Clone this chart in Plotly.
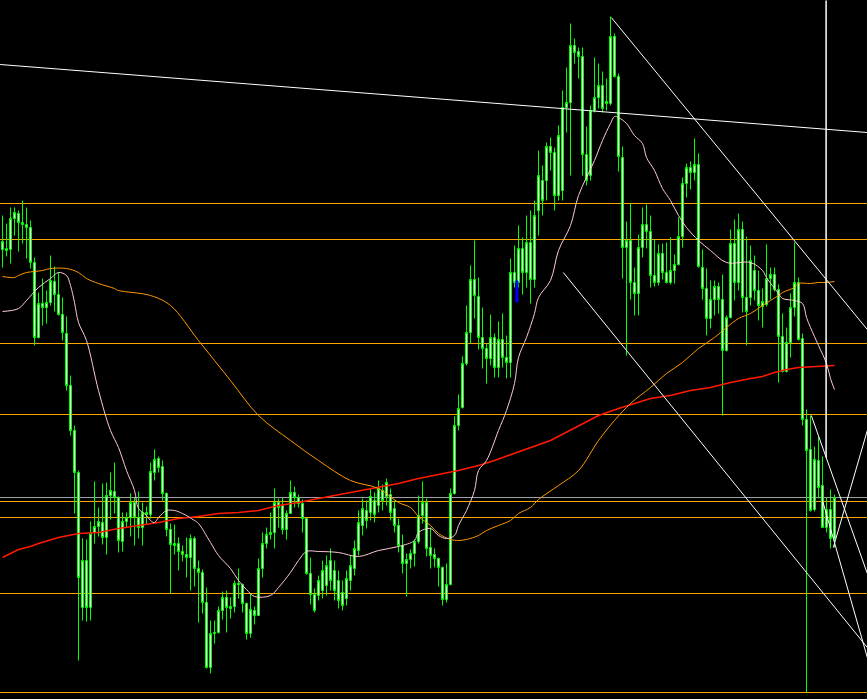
import plotly.graph_objects as go

open_ = [
1.3451,1.3450,1.3451,1.3482,1.3487,1.3478,1.3476,1.3473,1.3438,1.3363,
1.3397,1.3393,1.3398,1.3419,1.3406,1.3386,1.3367,1.3315,1.3270,1.3228,
1.3093,1.3140,1.3093,1.3168,1.3174,1.3178,1.3163,1.3205,1.3209,1.3203,
1.3159,1.3179,1.3183,1.3198,1.3183,1.3173,1.3188,1.3186,1.3228,1.3242,
1.3234,1.3207,1.3171,1.3157,1.3157,1.3149,1.3146,1.3143,1.3162,1.3132,
1.3128,1.3098,1.3033,1.3067,1.3068,1.3090,1.3103,1.3094,1.3094,1.3117,
1.3116,1.3097,1.3067,1.3090,1.3085,1.3132,1.3157,1.3166,1.3168,1.3198,
1.3195,1.3171,1.3187,1.3208,1.3203,1.3197,1.3182,1.3127,1.3106,1.3105,
1.3110,1.3115,1.3140,1.3130,1.3120,1.3108,1.3102,1.3120,1.3132,1.3150,
1.3175,1.3190,1.3188,1.3200,1.3195,1.3210,1.3204,1.3206,1.3192,1.3175,
1.3155,1.3137,1.3141,1.3147,1.3159,1.3185,1.3198,1.3153,1.3146,1.3142,
1.3133,1.3101,1.3116,1.3207,1.3275,1.3293,1.3337,1.3368,1.3421,1.3404,
1.3363,1.3352,1.3342,1.3363,1.3333,1.3361,1.3343,1.3338,1.3428,1.3418,
1.3452,1.3428,1.3458,1.3421,1.3490,1.3520,1.3520,1.3554,1.3548,1.3505,
1.3510,1.3593,1.3598,1.3655,1.3649,1.3644,1.3546,1.3525,1.3590,1.3603,
1.3615,1.3597,1.3597,1.3664,1.3624,1.3543,1.3453,1.3460,1.3418,1.3407,
1.3453,1.3476,1.3469,1.3425,1.3418,1.3447,1.3428,1.3418,1.3430,1.3436,
1.3464,1.3517,1.3533,1.3528,1.3536,1.3433,1.3412,1.3382,1.3401,1.3414,
1.3401,1.3350,1.3383,1.3457,1.3418,1.3471,1.3403,1.3403,1.3430,1.3410,
1.3394,1.3396,1.3422,1.3426,1.3411,1.3364,1.3329,1.3358,1.3393,1.3418,
1.3362,1.3281,1.3251,1.3191,1.3240,1.3215,1.3173,1.3191,1.3162]

high = [
1.3485,1.3477,1.3493,1.3493,1.3490,1.3500,1.3493,1.3480,1.3443,1.3408,
1.3422,1.3410,1.3445,1.3434,1.3428,1.3403,1.3384,1.3325,1.3275,1.3230,
1.3162,1.3161,1.3179,1.3219,1.3193,1.3217,1.3218,1.3228,1.3238,1.3204,
1.3188,1.3188,1.3207,1.3203,1.3209,1.3198,1.3194,1.3238,1.3251,1.3244,
1.3240,1.3208,1.3177,1.3176,1.3163,1.3155,1.3163,1.3166,1.3164,1.3140,
1.3131,1.3113,1.3080,1.3080,1.3094,1.3109,1.3110,1.3103,1.3120,1.3132,
1.3117,1.3098,1.3107,1.3094,1.3142,1.3168,1.3173,1.3188,1.3212,1.3202,
1.3203,1.3190,1.3220,1.3214,1.3206,1.3201,1.3183,1.3143,1.3112,1.3125,
1.3140,1.3145,1.3152,1.3140,1.3130,1.3120,1.3130,1.3145,1.3160,1.3190,
1.3202,1.3200,1.3212,1.3208,1.3220,1.3216,1.3222,1.3212,1.3200,1.3182,
1.3166,1.3147,1.3151,1.3161,1.3205,1.3219,1.3202,1.3173,1.3152,1.3143,
1.3134,1.3137,1.3212,1.3284,1.3306,1.3344,1.3395,1.3435,1.3460,1.3423,
1.3393,1.3357,1.3386,1.3367,1.3379,1.3387,1.3365,1.3442,1.3455,1.3475,
1.3463,1.3485,1.3490,1.3500,1.3550,1.3535,1.3558,1.3563,1.3553,1.3575,
1.3610,1.3633,1.3677,1.3662,1.3653,1.3653,1.3574,1.3595,1.3643,1.3637,
1.3629,1.3622,1.3684,1.3667,1.3627,1.3554,1.3479,1.3497,1.3433,1.3466,
1.3493,1.3496,1.3485,1.3461,1.3456,1.3457,1.3458,1.3463,1.3446,1.3483,
1.3523,1.3537,1.3539,1.3562,1.3547,1.3451,1.3432,1.3420,1.3420,1.3418,
1.3426,1.3385,1.3471,1.3481,1.3487,1.3479,1.3464,1.3455,1.3445,1.3430,
1.3412,1.3456,1.3433,1.3433,1.3416,1.3387,1.3373,1.3407,1.3458,1.3423,
1.3367,1.3291,1.3285,1.3254,1.3264,1.3244,1.3203,1.3211,1.3206]

low = [
1.3433,1.3444,1.3437,1.3465,1.3449,1.3457,1.3442,1.3432,1.3355,1.3362,
1.3375,1.3377,1.3395,1.3389,1.3385,1.3360,1.3310,1.3265,1.3187,1.3040,
1.3080,1.3079,1.3080,1.3157,1.3164,1.3156,1.3146,1.3181,1.3187,1.3148,
1.3149,1.3173,1.3164,1.3155,1.3162,1.3155,1.3176,1.3182,1.3220,1.3228,
1.3200,1.3164,1.3107,1.3146,1.3130,1.3139,1.3123,1.3110,1.3114,1.3078,
1.3087,1.3032,1.3027,1.3057,1.3067,1.3081,1.3068,1.3082,1.3088,1.3102,
1.3088,1.3061,1.3063,1.3076,1.3085,1.3123,1.3152,1.3161,1.3152,1.3173,
1.3166,1.3161,1.3187,1.3193,1.3193,1.3168,1.3126,1.3096,1.3088,1.3100,
1.3102,1.3105,1.3110,1.3100,1.3092,1.3090,1.3095,1.3110,1.3125,1.3145,
1.3165,1.3172,1.3180,1.3178,1.3188,1.3190,1.3195,1.3180,1.3168,1.3148,
1.3127,1.3104,1.3132,1.3134,1.3157,1.3177,1.3144,1.3132,1.3133,1.3114,
1.3095,1.3098,1.3115,1.3206,1.3270,1.3292,1.3335,1.3357,1.3382,1.3351,
1.3332,1.3317,1.3335,1.3323,1.3323,1.3333,1.3322,1.3323,1.3413,1.3413,
1.3406,1.3413,1.3397,1.3413,1.3465,1.3485,1.3500,1.3530,1.3490,1.3500,
1.3500,1.3568,1.3525,1.3637,1.3622,1.3525,1.3515,1.3520,1.3588,1.3592,
1.3588,1.3590,1.3595,1.3623,1.3529,1.3422,1.3345,1.3401,1.3385,1.3385,
1.3443,1.3452,1.3413,1.3414,1.3415,1.3421,1.3417,1.3416,1.3417,1.3435,
1.3453,1.3503,1.3511,1.3520,1.3433,1.3401,1.3365,1.3372,1.3385,1.3387,
1.3285,1.3349,1.3382,1.3400,1.3410,1.3388,1.3355,1.3395,1.3400,1.3380,
1.3373,1.3394,1.3401,1.3409,1.3318,1.3328,1.3328,1.3343,1.3384,1.3360,
1.3275,1.3008,1.3189,1.3189,1.3202,1.3173,1.3168,1.3152,1.3153]

close = [
1.3459,1.3452,1.3482,1.3488,1.3478,1.3476,1.3473,1.3438,1.3363,1.3397,
1.3393,1.3398,1.3420,1.3406,1.3386,1.3368,1.3315,1.3270,1.3228,1.3123,
1.3140,1.3093,1.3167,1.3174,1.3179,1.3163,1.3205,1.3210,1.3203,1.3160,
1.3179,1.3183,1.3198,1.3183,1.3173,1.3188,1.3186,1.3229,1.3241,1.3233,
1.3207,1.3171,1.3156,1.3155,1.3149,1.3146,1.3143,1.3162,1.3132,1.3128,
1.3098,1.3033,1.3067,1.3068,1.3090,1.3103,1.3093,1.3092,1.3117,1.3116,
1.3097,1.3067,1.3091,1.3085,1.3132,1.3157,1.3166,1.3168,1.3198,1.3193,
1.3171,1.3187,1.3208,1.3203,1.3197,1.3182,1.3127,1.3106,1.3090,1.3120,
1.3130,1.3135,1.3120,1.3110,1.3100,1.3095,1.3122,1.3135,1.3152,1.3178,
1.3192,1.3180,1.3204,1.3186,1.3212,1.3200,1.3218,1.3188,1.3175,1.3155,
1.3137,1.3141,1.3147,1.3159,1.3185,1.3198,1.3152,1.3145,1.3142,1.3133,
1.3101,1.3116,1.3207,1.3275,1.3292,1.3337,1.3368,1.3421,1.3405,1.3363,
1.3352,1.3342,1.3363,1.3333,1.3361,1.3343,1.3338,1.3428,1.3418,1.3452,
1.3428,1.3458,1.3421,1.3485,1.3525,1.3500,1.3554,1.3548,1.3505,1.3565,
1.3593,1.3598,1.3655,1.3648,1.3644,1.3546,1.3520,1.3590,1.3603,1.3615,
1.3592,1.3599,1.3664,1.3624,1.3544,1.3453,1.3460,1.3418,1.3407,1.3453,
1.3476,1.3469,1.3425,1.3418,1.3447,1.3428,1.3418,1.3430,1.3436,1.3464,
1.3517,1.3533,1.3528,1.3536,1.3434,1.3412,1.3382,1.3401,1.3414,1.3401,
1.3350,1.3383,1.3457,1.3418,1.3471,1.3403,1.3389,1.3440,1.3410,1.3395,
1.3399,1.3422,1.3426,1.3411,1.3364,1.3329,1.3358,1.3393,1.3418,1.3361,
1.3281,1.3250,1.3190,1.3241,1.3213,1.3173,1.3191,1.3162,1.3203]

bars = list(range(len(close)))

# moving averages (bar index, value)
ma_fast_idx = [0,4,6,9,12,14,16,17,18,19,21,24,27,29,31,33,34,36,37,38,39,40,41,43,45,48,49,52,54,57,59,61,63,67,69,72,74,76,79,84,89,94,99,103,104,107,109,111,113,114,116,118,119,121,124,126,128,129,131,133,134,137,139,142,144,148,150,152,153,154,156,158,160,161,163,165,167,169,171,174,177,181,187,190,191,194,195,198,200,201,202,204,206,207,208]
ma_fast = [1.3389,1.3392,1.3400,1.3413,1.3422,1.3428,1.3425,1.3415,1.3398,1.3378,1.3360,1.3310,1.3270,1.3253,1.3230,1.3210,1.3192,1.3185,1.3180,1.3178,1.3183,1.3187,1.3190,1.3190,1.3187,1.3180,1.3177,1.3158,1.3145,1.3132,1.3120,1.3111,1.3104,1.3105,1.3113,1.3128,1.3140,1.3149,1.3149,1.3148,1.3144,1.3150,1.3154,1.3160,1.3168,1.3172,1.3165,1.3162,1.3165,1.3175,1.3190,1.3210,1.3230,1.3240,1.3270,1.3290,1.3317,1.3343,1.3363,1.3387,1.3403,1.3420,1.3450,1.3475,1.3505,1.3540,1.3560,1.3577,1.3584,1.3583,1.3577,1.3565,1.3557,1.3543,1.3530,1.3512,1.3500,1.3485,1.3473,1.3460,1.3450,1.3438,1.3438,1.3430,1.3423,1.3407,1.3402,1.3400,1.3397,1.3383,1.3373,1.3355,1.3337,1.3322,1.3311]

ma_mid_idx = [0,3,4,6,8,10,12,16,19,21,24,28,29,37,42,49,57,64,72,79,87,94,99,102,104,107,109,112,114,116,119,121,124,127,129,132,134,139,144,149,153,157,162,166,170,174,178,181,184,187,190,192,194,195,198,199,202,204,206,208]
ma_mid = [1.3424,1.3423,1.3425,1.3428,1.3429,1.3430,1.3432,1.3432,1.3428,1.3422,1.3417,1.3412,1.3410,1.3405,1.3395,1.3360,1.3320,1.3285,1.3260,1.3240,1.3220,1.3212,1.3198,1.3193,1.3184,1.3175,1.3167,1.3161,1.3160,1.3161,1.3165,1.3170,1.3175,1.3180,1.3187,1.3193,1.3201,1.3215,1.3230,1.3260,1.3280,1.3297,1.3313,1.3327,1.3338,1.3352,1.3363,1.3373,1.3382,1.3387,1.3395,1.3400,1.3405,1.3408,1.3413,1.3417,1.3417,1.3418,1.3418,1.3419]

ma_slow_idx = [0,2,4,7,9,14,19,24,29,34,39,44,49,54,59,64,69,74,79,99,104,109,114,119,123,137,149,154,162,167,172,177,182,187,190,193,196,199,203,206,208]
ma_slow = [1.3143,1.3147,1.3151,1.3154,1.3157,1.3163,1.3167,1.3168,1.3172,1.3175,1.3178,1.3182,1.3184,1.3187,1.3188,1.3190,1.3195,1.3198,1.3202,1.3217,1.3222,1.3226,1.3230,1.3235,1.3240,1.3260,1.3285,1.3292,1.3302,1.3305,1.3310,1.3313,1.3318,1.3322,1.3324,1.3328,1.3331,1.3333,1.3334,1.3335,1.3335]

# horizontal price levels
level_prices = [1.3497, 1.3461, 1.3357, 1.3286, 1.3199, 1.3183, 1.3107, 1.3008]
grey_level = [1.3203]

# trend lines: (bar0, price0) -> (bar1, price1)
trend_x0 = [-0.6, 152.2, 140.2, 202.2, 205.0, 207.7]
trend_y0 = [1.3636, 1.3683, 1.3428, 1.3285, 1.3200, 1.3153]
trend_x1 = [216.2, 216.2, 216.2, 216.2, 216.2, 216.2]
trend_y1 = [1.3568, 1.3371, 1.3053, 1.3127, 1.3043, 1.3270]
vline_bar = [205.9]
vline_range = [1.3243, 1.3700]
marker_bar = [128.6]
marker_range = [1.3398, 1.3420]

fig = go.Figure()

shapes = []
for p in level_prices:
    shapes.append(dict(type="line", xref="paper", yref="y", x0=0, x1=1, y0=p, y1=p,
                       line=dict(color="#FFA500", width=1), layer="below"))
for p in grey_level:
    shapes.append(dict(type="line", xref="paper", yref="y", x0=0, x1=1, y0=p, y1=p,
                       line=dict(color="#A0A0A0", width=1), layer="below"))
for a, b, c, d in zip(trend_x0, trend_y0, trend_x1, trend_y1):
    shapes.append(dict(type="line", xref="x", yref="y", x0=a, y0=b, x1=c, y1=d,
                       line=dict(color="white", width=1)))
for v in vline_bar:
    shapes.append(dict(type="line", xref="x", yref="y", x0=v, x1=v,
                       y0=vline_range[0], y1=vline_range[1],
                       line=dict(color="white", width=1.5)))

fig.add_trace(go.Scatter(x=ma_slow_idx, y=ma_slow, mode="lines",
                         line=dict(color="#FF1A00", width=1.6), hoverinfo="skip"))
fig.add_trace(go.Scatter(x=ma_mid_idx, y=ma_mid, mode="lines", line_shape="spline",
                         line=dict(color="#FF9900", width=1), hoverinfo="skip"))
fig.add_trace(go.Candlestick(
    x=bars, open=open_, high=high, low=low, close=close,
    increasing=dict(line=dict(color="#00FF00", width=1), fillcolor="white"),
    decreasing=dict(line=dict(color="#00FF00", width=1), fillcolor="white"),
    whiskerwidth=0, hoverinfo="skip"))
fig.add_trace(go.Scatter(x=ma_fast_idx, y=ma_fast, mode="lines", line_shape="spline",
                         line=dict(color="#FFC8D8", width=1), hoverinfo="skip"))
fig.add_trace(go.Scatter(x=marker_bar * 2, y=marker_range, mode="lines",
                         line=dict(color="#0000FF", width=3), hoverinfo="skip"))

fig.update_layout(
    width=867, height=699, margin=dict(l=0, r=0, t=0, b=0),
    paper_bgcolor="black", plot_bgcolor="black", showlegend=False,
    shapes=shapes,
    xaxis=dict(range=[-0.625, 216.125], visible=False, rangeslider=dict(visible=False),
               showgrid=False, zeroline=False),
    yaxis=dict(range=[1.30015, 1.37005], visible=False, showgrid=False, zeroline=False),
)
fig.write_html("out.html",
               config={"displayModeBar": False, "staticPlot": True},
               post_script="document.body.style.margin='0';document.body.style.background='black';")
